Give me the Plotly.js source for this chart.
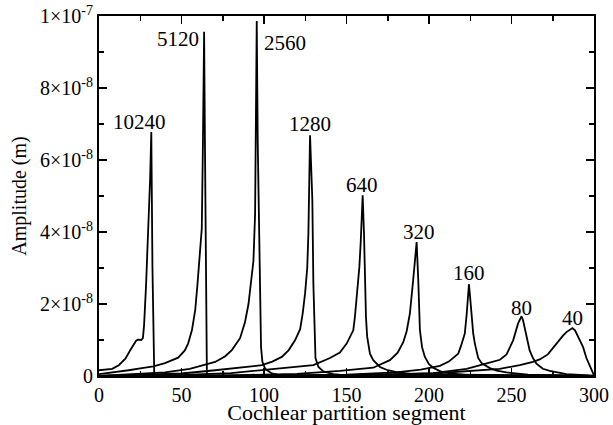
<!DOCTYPE html>
<html>
<head>
<meta charset="utf-8">
<script src="https://cdn.plot.ly/plotly-3.0.1.min.js"></script>
<style>html,body{margin:0;padding:0;background:#fff;}#chart{width:613px;height:425px;}</style>
</head>
<body>
<div id="chart"></div>
<script>
// Amplitudes in units of 1e-8 m; x = cochlear partition segment
const labels = ["10240", "5120", "2560", "1280", "640", "320", "160", "80", "40"];

const x10240 = [0, 8, 12, 16, 19, 21, 22.5, 23.6, 25.6, 26.6, 27.3, 28.5, 30.2, 31.0, 31.7, 32.0, 32.4, 33.5, 40, 300];
const y10240 = [0.16, 0.2, 0.3, 0.48, 0.72, 0.88, 0.98, 1.01, 1.0, 1.05, 1.4, 2.5, 4.4, 5.5, 6.78, 5.2, 3.0, 0.0, 0, 0];

const x5120 = [0, 10, 18, 25, 33, 40, 48, 52, 54, 56.3, 58.3, 59.6, 61, 62.3, 63.0, 63.7, 64.2, 64.7, 65.4, 70, 300];
const y5120 = [0.05, 0.1, 0.16, 0.21, 0.27, 0.36, 0.51, 0.71, 0.9, 1.27, 1.83, 2.5, 3.4, 4.1, 6.5, 9.56, 6.5, 3.0, 0.0, 0, 0];

const x2560 = [0, 20, 40, 55, 61.3, 70.4, 76.5, 80.5, 85.5, 88.5, 90.6, 92.2, 93.6, 94.6, 95.1, 95.6, 96.2, 96.9, 97.6, 98.2, 99.0, 100.7, 104.7, 110, 300];
const y2560 = [0.0, 0.04, 0.1, 0.2, 0.28, 0.39, 0.55, 0.72, 1.05, 1.5, 2.0, 2.66, 3.2, 4.5, 6.5, 9.86, 6.5, 4.0, 2.66, 0.8, 0.4, 0.2, 0.07, 0.02, 0];

const x1280 = [0, 30, 50, 70.4, 85, 98.7, 105, 110.8, 115, 118.8, 121.9, 123.5, 124.9, 126.2, 126.9, 127.5, 127.9, 128.6, 129.3, 129.9, 130.5, 131.2, 133, 136, 142, 150, 300];
const y1280 = [0, 0.03, 0.07, 0.16, 0.23, 0.3, 0.4, 0.53, 0.72, 0.99, 1.3, 1.75, 2.3, 3.0, 3.96, 5.8, 6.69, 5.8, 4.88, 2.6, 1.2, 0.5, 0.25, 0.13, 0.05, 0.02, 0];

const x640 = [0, 50, 80, 109.7, 129.9, 140, 146, 150.1, 154.1, 155.1, 157.1, 157.8, 158.6, 159.2, 159.8, 160.6, 161.2, 161.8, 162.5, 164.2, 166.2, 170.3, 175, 180.4, 190, 300];
const y640 = [0, 0.03, 0.08, 0.2, 0.3, 0.5, 0.65, 0.9, 1.27, 1.64, 2.66, 3.03, 3.7, 4.42, 5.02, 3.96, 2.66, 1.64, 1.1, 0.62, 0.44, 0.25, 0.16, 0.11, 0.05, 0];

const x320 = [0, 80, 120, 146, 166.2, 176.3, 181, 184.4, 186.5, 188.4, 190.4, 191.5, 192.5, 193.5, 194.5, 195.8, 197.5, 200, 202.5, 207, 212.7, 225, 300];
const y320 = [0, 0.02, 0.06, 0.14, 0.23, 0.44, 0.65, 0.94, 1.25, 1.73, 2.66, 3.3, 3.72, 2.66, 1.27, 0.8, 0.53, 0.33, 0.23, 0.13, 0.07, 0.02, 0];

const x160 = [0, 100, 150, 180, 195, 206.6, 212, 217.7, 219.5, 221.7, 222.8, 223.6, 224.2, 224.9, 225.8, 226.8, 227.8, 229.8, 232, 236.9, 241, 247, 260, 300];
const y160 = [0, 0.01, 0.04, 0.1, 0.18, 0.28, 0.4, 0.62, 0.85, 1.18, 1.7, 2.2, 2.55, 2.2, 1.64, 1.18, 0.9, 0.5, 0.35, 0.22, 0.15, 0.1, 0.04, 0];

const x80 = [0, 150, 202.5, 222.8, 235, 243, 247, 251, 254, 255.2, 256.1, 257, 258, 259.5, 261, 263, 265.1, 269, 273.2, 283.3, 300];
const y80 = [0, 0.02, 0.08, 0.2, 0.35, 0.45, 0.6, 0.99, 1.46, 1.6, 1.66, 1.55, 1.36, 1.0, 0.71, 0.5, 0.34, 0.2, 0.14, 0.05, 0.01];

const x40 = [0, 150, 202.5, 242.9, 255, 263, 267.1, 272, 275.2, 278, 281.2, 283.3, 285.5, 286.9, 288.5, 290, 291.3, 293.4, 295.4, 297, 298.4, 300];
const y40 = [0, 0.01, 0.07, 0.2, 0.3, 0.39, 0.46, 0.6, 0.78, 0.95, 1.12, 1.22, 1.3, 1.33, 1.27, 1.13, 0.99, 0.8, 0.5, 0.33, 0.2, 0.02];

const seriesX = [x10240, x5120, x2560, x1280, x640, x320, x160, x80, x40];
const seriesY = [y10240, y5120, y2560, y1280, y640, y320, y160, y80, y40];

// label positions (data coordinates)
const labelX = [24.6, 48, 112.5, 127.9, 159.6, 193.7, 224, 256.1, 287.1];
const labelY = [7.06, 9.35, 9.24, 7.01, 5.3, 4.0, 2.85, 1.89, 1.62];

const yTickVals = [0, 2, 4, 6, 8, 10];
const yTickText = ["0", "2×10<sup>-8</sup>", "4×10<sup>-8</sup>", "6×10<sup>-8</sup>", "8×10<sup>-8</sup>", "1×10<sup>-7</sup>"];

const FONT = "Liberation Serif, Times New Roman, serif";

const traces = seriesX.map((xs, i) => ({
  x: xs, y: seriesY[i], type: "scatter", mode: "lines",
  line: {color: "#000", width: 1.8}, name: labels[i], hoverinfo: "skip"
}));

const annotations = labels.map((t, i) => ({
  x: labelX[i], y: labelY[i], xref: "x", yref: "y", text: t, showarrow: false,
  xanchor: "center", yanchor: "middle", font: {family: FONT, size: 21, color: "#000"}
}));

const layout = {
  width: 613, height: 425,
  margin: {l: 99, r: 19, t: 16, b: 49},
  paper_bgcolor: "#fff", plot_bgcolor: "#fff",
  showlegend: false,
  font: {family: FONT, size: 20, color: "#000"},
  xaxis: {
    range: [0, 300], tickmode: "linear", tick0: 0, dtick: 50,
    ticks: "inside", ticklen: 8, tickwidth: 1.5, tickcolor: "#000",
    minor: {tickmode: "linear", tick0: 0, dtick: 25, ticks: "inside", ticklen: 5, tickwidth: 1.5, tickcolor: "#000", showgrid: false},
    showline: true, linewidth: 2, linecolor: "#000", mirror: "ticks",
    showgrid: false, zeroline: false,
    tickfont: {family: FONT, size: 20, color: "#000"},
    title: {text: "Cochlear partition segment", font: {family: FONT, size: 22, color: "#000"}, standoff: 7}
  },
  yaxis: {
    range: [0, 10], tickmode: "array", tickvals: yTickVals, ticktext: yTickText,
    ticks: "inside", ticklen: 8, tickwidth: 1.5, tickcolor: "#000",
    minor: {tickmode: "linear", tick0: 0, dtick: 1, ticks: "inside", ticklen: 5, tickwidth: 1.5, tickcolor: "#000", showgrid: false},
    showline: true, linewidth: 2, linecolor: "#000", mirror: "ticks",
    showgrid: false, zeroline: false,
    tickfont: {family: FONT, size: 20, color: "#000"},
    title: {text: "Amplitude (m)", font: {family: FONT, size: 20, color: "#000"}, standoff: 8}
  },
  annotations: annotations
};

Plotly.newPlot("chart", traces, layout, {staticPlot: true, displayModeBar: false});
</script>
</body>
</html>
